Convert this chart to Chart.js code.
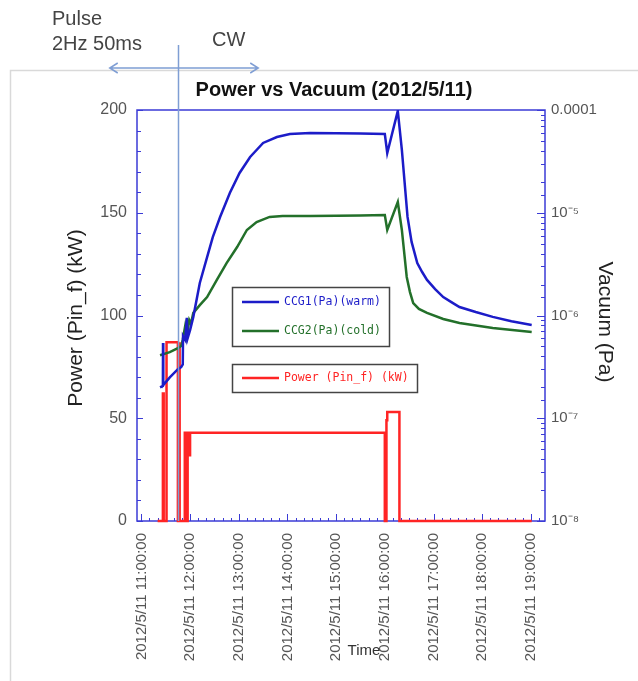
<!DOCTYPE html>
<html>
<head>
<meta charset="utf-8">
<script src="https://cdn.jsdelivr.net/npm/chart.js@4.4.0/dist/chart.umd.min.js"></script>
<style>
  html, body { margin: 0; padding: 0; background: #fff; }
  canvas { display: block; }
</style>
</head>
<body>
<canvas id="powerVacuumChart" width="638" height="681"></canvas>
<script>
// all times are on 2012/5/11, hh:mm(:ss)
const ccg1Times = ['11:23', '11:26:30', '11:26:40', '11:27', '11:35', '11:45', '11:49', '11:51', '11:51:20', '11:54',
  '11:56', '11:57', '12:00', '12:04', '12:12', '12:21', '12:28', '12:37', '12:49', '13:01', '13:14', '13:30',
  '13:47', '14:03', '14:28', '15:00', '15:30', '16:00', '16:03', '16:16', '16:21', '16:28', '16:33', '16:40',
  '16:46', '16:52', '17:02', '17:12', '17:22', '17:32', '17:52', '18:13', '18:36', '19:01'];
const ccg1Values = [2.0e-7, 2.06e-7, 5.4e-7, 2.1e-7, 2.5e-7, 3.0e-7, 3.15e-7, 3.35e-7, 6.3e-7, 5.8e-7,
  9.5e-7, 6.0e-7, 7.2e-7, 9.7e-7, 2.07e-6, 3.7e-6, 5.8e-6, 9.1e-6, 1.56e-5, 2.44e-5, 3.49e-5, 4.78e-5,
  5.46e-5, 5.84e-5, 5.97e-5, 5.95e-5, 5.9e-5, 5.84e-5, 3.82e-5, 9.8e-5, 4.1e-5, 9.1e-6, 5.2e-6, 3.24e-6,
  2.65e-6, 2.22e-6, 1.81e-6, 1.51e-6, 1.35e-6, 1.21e-6, 1.08e-6, 9.7e-7, 8.8e-7, 8.1e-7];

const ccg2Times = ['11:23', '11:35', '11:45', '11:49', '11:51', '11:54', '11:56', '11:59', '12:01', '12:04',
  '12:12', '12:21', '12:33', '12:45', '12:58', '13:10', '13:22', '13:38', '13:54', '14:28', '15:00', '15:30',
  '16:00', '16:03', '16:16', '16:21', '16:27', '16:31', '16:35', '16:42', '16:52', '17:12', '17:32', '18:13', '19:01'];
const ccg2Values = [4.1e-7, 4.4e-7, 4.8e-7, 5.05e-7, 5.8e-7, 7.9e-7, 6.3e-7, 9.0e-7, 8.3e-7, 1.06e-6,
  1.26e-6, 1.51e-6, 2.22e-6, 3.24e-6, 4.64e-6, 6.8e-6, 8.13e-6, 9.1e-6, 9.3e-6, 9.3e-6, 9.35e-6, 9.4e-6,
  9.5e-6, 6.8e-6, 1.27e-5, 6.8e-6, 2.37e-6, 1.69e-6, 1.32e-6, 1.16e-6, 1.06e-6, 9.25e-7, 8.45e-7, 7.55e-7, 6.9e-7];

const powerTimes = ['11:20', '11:26:30', '11:26:30', '11:27:30', '11:27:30', '11:31', '11:31', '11:45', '11:45',
  '11:46:30', '11:46:30', '11:47:30', '11:47:30', '11:53:30', '11:53:30', '11:55', '11:55', '11:57', '11:57',
  '11:59', '11:59', '12:00', '12:00', '16:00', '16:00', '16:02', '16:02', '16:03', '16:03', '16:18', '16:18', '19:01'];
const powerValues = [0, 0, 62, 62, 0, 0, 87, 87, 0,
  0, 87, 87, 0, 0, 43, 43, 0, 0, 43,
  43, 32, 32, 43, 43, 0, 0, 49, 49, 53, 53, 0, 0];

const hourTicks = [11, 12, 13, 14, 15, 16, 17, 18, 19];
const powerTicks = [0, 50, 100, 150, 200];
const pulseEnd = '11:45';   // Pulse 2Hz 50ms -> CW

function toHours(t) {
  const p = t.split(':').map(Number);
  return p[0] + (p[1] || 0) / 60 + (p[2] || 0) / 3600;
}
function pairs(times, vals) {
  return times.map((t, i) => ({ x: toHours(t), y: vals[i] }));
}

const AXIS_BLUE = '#3b3bd6';
const FONT = '"Liberation Sans", Arial, sans-serif';
const sup = { '-': '\u207B', '5': '\u2075', '6': '\u2076', '7': '\u2077', '8': '\u2078' };

const decor = {
  id: 'decor',
  beforeDraw(chart) {
    const ctx = chart.ctx;
    ctx.save();
    ctx.fillStyle = '#fff';
    ctx.fillRect(0, 0, chart.width, chart.height);
    // outer gray frame
    ctx.strokeStyle = '#d9d9d9';
    ctx.lineWidth = 1.5;
    ctx.beginPath();
    ctx.moveTo(10.5, chart.height);
    ctx.lineTo(10.5, 70.5);
    ctx.lineTo(chart.width, 70.5);
    ctx.stroke();
    ctx.restore();
  },
  beforeDatasetsDraw(chart) {
    const ctx = chart.ctx;
    const a = chart.chartArea;
    const x = chart.scales.x, y = chart.scales.y, y1 = chart.scales.y1;
    ctx.save();
    // plot box
    ctx.strokeStyle = AXIS_BLUE;
    ctx.lineWidth = 1.5;
    ctx.strokeRect(a.left, a.top, a.right - a.left, a.bottom - a.top);

    // inward ticks
    ctx.lineWidth = 1;
    ctx.beginPath();
    for (let v = 0; v <= 200; v += 10) {
      const py = Math.round(y.getPixelForValue(v)) + 0.5;
      ctx.moveTo(a.left, py);
      ctx.lineTo(a.left + (v % 50 === 0 ? 6 : 4), py);
    }
    y1.ticks.forEach(t => {
      const e = Math.log10(t.value);
      const major = Math.abs(e - Math.round(e)) < 1e-6;
      const py = Math.round(y1.getPixelForValue(t.value)) + 0.5;
      ctx.moveTo(a.right, py);
      ctx.lineTo(a.right - (major ? 8 : 4), py);
    });
    for (let m = Math.ceil(x.min * 6); m <= x.max * 6; m++) {
      const px = Math.round(x.getPixelForValue(m / 6)) + 0.5;
      ctx.moveTo(px, a.bottom);
      ctx.lineTo(px, a.bottom - (m % 6 === 0 ? 7 : 3));
    }
    ctx.stroke();
    ctx.restore();
  },
  afterDraw(chart) {
    const ctx = chart.ctx;
    const a = chart.chartArea;
    const x = chart.scales.x;
    ctx.save();

    // title
    ctx.fillStyle = '#111';
    ctx.font = 'bold 20px ' + FONT;
    ctx.textAlign = 'center';
    ctx.textBaseline = 'middle';
    ctx.fillText('Power vs Vacuum (2012/5/11)', 334, 90);

    // axis titles
    ctx.font = '21px ' + FONT;
    ctx.fillStyle = '#222';
    ctx.save();
    ctx.translate(76, 318);
    ctx.rotate(-Math.PI / 2);
    ctx.fillText('Power (Pin_f) (kW)', 0, 0);
    ctx.restore();
    ctx.save();
    ctx.translate(605, 322);
    ctx.rotate(Math.PI / 2);
    ctx.fillText('Vacuum (Pa)', 0, 0);
    ctx.restore();
    ctx.font = '15px ' + FONT;
    ctx.fillStyle = '#333';
    ctx.fillText('Time', 364, 651);

    // legend boxes
    const ds = chart.data.datasets;
    ctx.strokeStyle = '#444';
    ctx.lineWidth = 1.5;
    ctx.strokeRect(232.5, 287.5, 157, 59);
    ctx.strokeRect(232.5, 364.5, 185, 28);
    const rows = [[0, 302], [1, 331], [2, 378]];
    ctx.textAlign = 'left';
    ctx.font = '11.5px "DejaVu Sans Mono", monospace';
    rows.forEach(([i, ry]) => {
      ctx.strokeStyle = ds[i].borderColor;
      ctx.lineWidth = 2.5;
      ctx.beginPath();
      ctx.moveTo(242, ry);
      ctx.lineTo(279, ry);
      ctx.stroke();
      ctx.fillStyle = ds[i].borderColor;
      ctx.fillText(ds[i].label, 284, ry);
    });

    // Pulse / CW annotation
    const bx = Math.round(x.getPixelForValue(toHours(pulseEnd))) + 0.5;
    ctx.strokeStyle = '#7f9ed4';
    ctx.lineWidth = 1.5;
    ctx.beginPath();
    ctx.moveTo(bx, 45);
    ctx.lineTo(bx, a.bottom);
    const ax1 = x.getPixelForValue(toHours(pulseEnd) - 1.4);
    const ax2 = x.getPixelForValue(toHours(pulseEnd) + 1.65);
    ctx.moveTo(ax1, 68);
    ctx.lineTo(ax2, 68);
    ctx.moveTo(ax1 + 8, 63); ctx.lineTo(ax1, 68); ctx.lineTo(ax1 + 8, 73);
    ctx.moveTo(ax2 - 8, 63); ctx.lineTo(ax2, 68); ctx.lineTo(ax2 - 8, 73);
    ctx.stroke();
    ctx.fillStyle = '#444';
    ctx.font = '20px ' + FONT;
    ctx.textBaseline = 'alphabetic';
    ctx.fillText('Pulse', 52, 25);
    ctx.fillText('2Hz 50ms', 52, 50);
    ctx.fillText('CW', 212, 46);
    ctx.restore();
  }
};

new Chart('powerVacuumChart', {
  type: 'line',
  data: {
    datasets: [
      { label: 'CCG1(Pa)(warm)', data: pairs(ccg1Times, ccg1Values), yAxisID: 'y1',
        borderColor: '#1c1cc8', borderWidth: 2.5 },
      { label: 'CCG2(Pa)(cold)', data: pairs(ccg2Times, ccg2Values), yAxisID: 'y1',
        borderColor: '#23702a', borderWidth: 2.5 },
      { label: 'Power (Pin_f) (kW)', data: pairs(powerTimes, powerValues), yAxisID: 'y',
        borderColor: '#ff2424', borderWidth: 2.5, clip: 4 }
    ]
  },
  options: {
    responsive: false,
    animation: false,
    devicePixelRatio: 1,
    elements: { point: { radius: 0 }, line: { tension: 0 } },
    layout: { padding: { top: 110, left: 0, right: 0, bottom: 0 } },
    plugins: { legend: { display: false }, title: { display: false }, tooltip: { enabled: false } },
    scales: {
      x: {
        type: 'linear',
        min: 10.91,
        max: 19.29,
        afterFit(s) { s.height = 160; },
        afterBuildTicks(s) { s.ticks = hourTicks.map(v => ({ value: v })); },
        grid: { display: false, drawTicks: false },
        border: { display: false },
        ticks: {
          autoSkip: false, minRotation: 90, maxRotation: 90, padding: 12,
          color: '#555', font: { family: FONT, size: 15 },
          callback: v => '2012/5/11 ' + v + ':00:00'
        }
      },
      y: {
        position: 'left',
        min: 0,
        max: 200,
        afterFit(s) { s.width = 137; },
        afterBuildTicks(s) { s.ticks = powerTicks.map(v => ({ value: v })); },
        grid: { display: false, drawTicks: false },
        border: { display: false },
        ticks: { padding: 10, color: '#555', font: { family: FONT, size: 16 } }
      },
      y1: {
        type: 'logarithmic',
        position: 'right',
        min: 1e-8,
        max: 1e-4,
        afterFit(s) { s.width = 93; },
        grid: { display: false, drawTicks: false },
        border: { display: false },
        ticks: {
          autoSkip: false, padding: 6, color: '#555', font: { family: FONT, size: 15 },
          callback: v => {
            const e = Math.log10(v);
            if (Math.abs(e - Math.round(e)) > 1e-6) return '';
            const n = Math.round(e);
            if (n === -4) return '0.0001';
            return '10' + String(n).split('').map(c => sup[c]).join('');
          }
        }
      }
    }
  },
  plugins: [decor]
});
</script>
</body>
</html>
